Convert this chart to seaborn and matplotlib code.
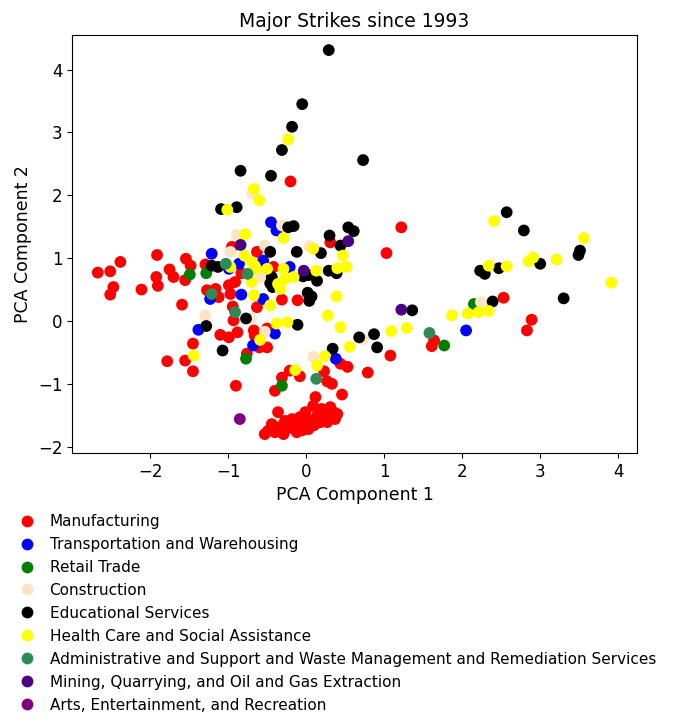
import matplotlib
matplotlib.use("Agg")
import matplotlib.pyplot as plt
import pandas as pd
import seaborn as sns

industries = [
    "Manufacturing",
    "Transportation and Warehousing",
    "Retail Trade",
    "Construction",
    "Educational Services",
    "Health Care and Social Assistance",
    "Administrative and Support and Waste Management and Remediation Services",
    "Mining, Quarrying, and Oil and Gas Extraction",
    "Arts, Entertainment, and Recreation",
]
colors = ["red", "blue", "green", "bisque", "black", "yellow", "seagreen", "indigo", "purple"]

manufacturing_x = [
    -2.67, -2.51, -2.38, -1.91, -2.47, -2.51, -2.11, -1.92, -1.90, -1.75, -1.70, -1.54,
    -1.48, -1.55, -1.29, -1.27, -1.16, -0.99, -0.91, -0.97, -1.12, -1.59, -0.94, -0.63,
    -0.95, -0.63, -0.83, -0.63, -0.93, -1.10, -0.99, -0.88, -0.67, -0.66, -0.60, -0.50,
    -0.76, -1.45, -1.78, -1.55, -1.45, -0.90, -0.50, -0.42, -0.31, -0.11, -0.20, 0.31,
    1.03, 1.22, 1.08, 0.79, 2.53, 2.89, 2.83, 1.64, 1.61, 0.44, 0.53, 0.23,
    -0.21, -0.08, -0.31, 0.27, 0.33, -0.40, 0.46,
    -0.49, -0.40, -0.44, -0.36, -0.31, -0.27, -0.21, -0.18, -0.12, -0.08, -0.03, -0.01,
    0.05, 0.09, 0.12, 0.14, 0.18, 0.20, 0.27, 0.31, 0.35, 0.37, 0.27, 0.03,
    -0.12, -0.29, -0.53, -0.22, 0.00, 0.22, -0.05, 0.10, 0.30, -0.35, 0.40,
]
manufacturing_y = [
    0.77, 0.79, 0.94, 1.05, 0.54, 0.42, 0.50, 0.70, 0.56, 0.82, 0.70, 0.99,
    0.88, 0.65, 0.90, 0.49, 0.51, 0.57, 0.62, 0.43, 0.38, 0.26, 0.23, 0.22,
    1.18, 1.10, 0.76, 0.83, 0.01, -0.22, -0.26, -0.18, -0.15, -0.23, -0.42, -0.42,
    -0.52, -0.36, -0.64, -0.63, -0.80, -1.03, -0.12, 0.86, 0.34, 0.33, 2.22, 1.25,
    1.08, 1.49, -0.55, -0.82, 0.37, 0.02, -0.15, -0.31, -0.40, -0.68, -0.73, -0.80,
    -0.79, -0.88, -0.90, -0.96, -1.00, -1.11, -1.17,
    -1.75, -1.77, -1.64, -1.45, -1.67, -1.59, -1.70, -1.56, -1.64, -1.53, -1.67, -1.45,
    -1.59, -1.35, -1.21, -1.51, -1.61, -1.40, -1.51, -1.37, -1.45, -1.56, -1.61, -1.72,
    -1.77, -1.80, -1.80, -1.62, -1.55, -1.47, -1.74, -1.66, -1.55, -1.72, -1.48,
]

transportation_x = [-1.21, -0.99, -0.86, -0.83, -1.23, -1.38, -0.68, -0.55, -0.21, -0.55,
                    -0.45, -0.38, -0.40, 0.38, 2.05]
transportation_y = [1.07, 0.83, 0.91, 0.42, 0.35, -0.14, -0.39, 0.96, 0.86, 0.35,
                    1.57, 1.44, -0.20, -0.60, -0.15]

retail_x = [-1.49, -1.28, -0.77, -0.31, 2.15, 1.77]
retail_y = [0.74, 0.76, -0.60, -1.03, 0.27, -0.39]

construction_x = [-0.89, -0.69, -0.97, -0.31, -0.53, 0.04, -0.59, -1.29, -0.71, -0.53,
                  0.09, 0.73, 2.24]
construction_y = [1.37, 2.03, 1.10, 1.52, 1.20, 1.19, 0.70, 0.09, 0.04, -0.17,
                  -0.57, -0.29, 0.30]

education_x = [
    0.29, -0.05, -0.18, -0.31, 0.73, -0.45, -0.84, -1.09, -0.89, -0.23, -0.16, 0.30,
    0.54, 0.61, 0.44, 0.19, -0.12, -0.46, -1.21, -1.13, -0.44, -0.46, -0.43, -0.04,
    0.03, 0.14, 0.29, 0.39, 0.02, 0.07, 0.04, -0.77, -1.28, -1.07, -0.11, 0.34,
    0.68, 0.87, 0.91, 1.36, 2.39, 2.23, 2.29, 2.47, 3.00, 2.57, 2.79, 3.51,
    3.49, 3.30,
]
education_y = [
    4.31, 3.45, 3.09, 2.72, 2.56, 2.31, 2.39, 1.78, 1.81, 1.49, 1.51, 1.36,
    1.49, 1.43, 1.20, 1.08, 1.10, 1.10, 0.88, 0.86, 0.70, 0.60, 0.54, 0.71,
    0.73, 0.64, 0.80, 0.76, 0.45, 0.39, 0.32, 0.04, -0.08, -0.47, -0.06, -0.44,
    -0.26, -0.21, -0.42, 0.17, 0.31, 0.80, 0.75, 0.84, 0.91, 1.73, 1.44, 1.12,
    1.05, 0.36,
]

health_x = [
    -0.23, -0.67, -0.60, -1.01, -0.29, -0.78, -0.79, 0.09, 0.47, -0.97, -0.66, -0.70,
    -0.64, -0.50, -0.29, -0.27, -0.16, -0.36, -0.33, -0.70, 0.13, 0.40, 0.52, 0.39,
    -0.67, -0.46, -0.38, -0.24, -0.59, -1.44, 0.28, 0.44, 0.56, 0.24, 0.14, -0.14,
    1.09, 1.29, 1.87, 2.07, 2.21, 2.34, 2.41, 2.34, 2.57, 2.85, 2.91, 3.21,
    3.56, 3.91,
]
health_y = [
    2.89, 2.10, 1.92, 1.77, 1.32, 1.38, 1.04, 1.15, 1.04, 0.86, 0.88, 0.94,
    0.83, 0.83, 0.83, 0.67, 0.70, 0.59, 0.51, 0.62, 0.80, 0.84, 0.86, 0.39,
    0.41, 0.25, -0.04, -0.02, -0.30, -0.55, 0.09, -0.10, -0.41, -0.56, -0.71, -0.78,
    -0.16, -0.11, 0.09, 0.12, 0.14, 0.16, 1.59, 0.88, 0.87, 0.95, 1.01, 0.98,
    1.32, 0.61,
]

admin_x = [-1.03, -0.75, -1.21, -0.91, 0.13, 1.58]
admin_y = [0.91, 0.75, 0.43, 0.14, -0.92, -0.19]

mining_x = [-0.84, 0.54, -0.03, 1.22]
mining_y = [1.21, 1.27, 0.80, 0.18]

arts_x = [-0.85]
arts_y = [-1.56]

series = [
    (manufacturing_x, manufacturing_y),
    (transportation_x, transportation_y),
    (retail_x, retail_y),
    (construction_x, construction_y),
    (education_x, education_y),
    (health_x, health_y),
    (admin_x, admin_y),
    (mining_x, mining_y),
    (arts_x, arts_y),
]

frames = [
    pd.DataFrame({"pc1": xs, "pc2": ys, "industry": name})
    for name, (xs, ys) in zip(industries, series)
]
df = pd.concat(frames, ignore_index=True)

fig = plt.figure(figsize=(6.74, 7.19), dpi=100)
ax = fig.add_axes([72 / 674, 1 - 453 / 719, 565 / 674, 418 / 719])

sns.scatterplot(
    data=df, x="pc1", y="pc2", hue="industry",
    hue_order=industries, palette=dict(zip(industries, colors)),
    s=72, linewidth=0, edgecolor="none", ax=ax,
)

ax.set_xlim(-3.0, 4.24)
ax.set_ylim(-2.1, 4.55)
ax.set_xticks([-2, -1, 0, 1, 2, 3, 4])
ax.set_yticks([-2, -1, 0, 1, 2, 3, 4])
ax.tick_params(labelsize=12)
ax.set_xlabel("PCA Component 1", fontsize=12.5)
ax.set_ylabel("PCA Component 2", fontsize=12.5)
ax.set_title("Major Strikes since 1993", fontsize=13.5)

sns.move_legend(
    ax, "upper left", bbox_to_anchor=(19 / 674, 1 - 514 / 719),
    bbox_transform=fig.transFigure, frameon=False, title=None,
    fontsize=11, handlelength=1.0, handletextpad=1.0, borderpad=0,
    borderaxespad=0, labelspacing=0.52,
)

fig.savefig("out.png", dpi=100)
